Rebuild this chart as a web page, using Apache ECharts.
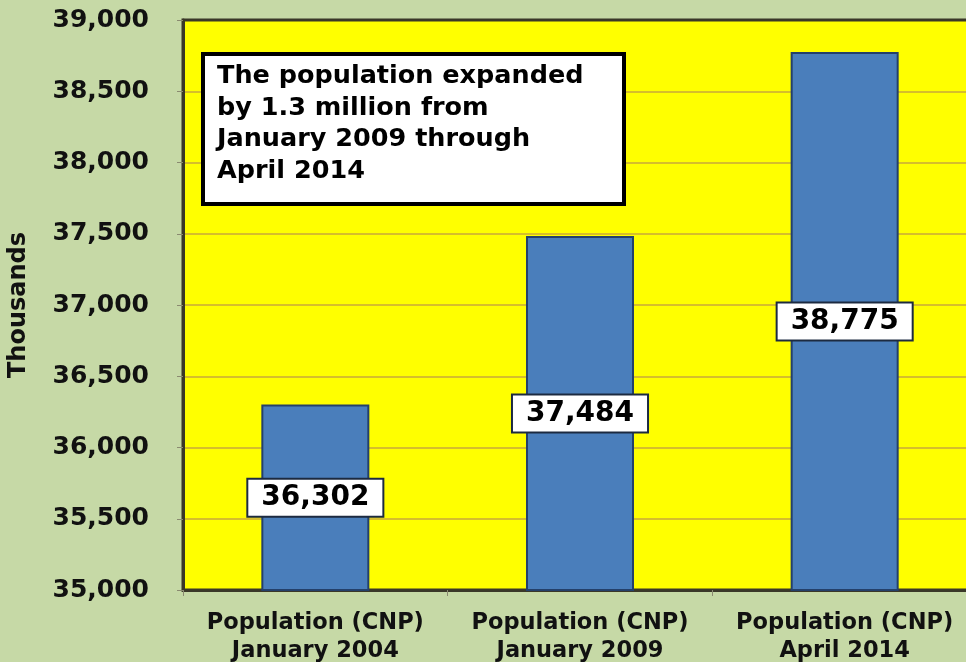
<!DOCTYPE html>
<html>
<head>
<meta charset="utf-8">
<script src="https://cdn.jsdelivr.net/npm/echarts@6/dist/echarts.min.js"></script>
<style>
  html, body { margin: 0; padding: 0; background: #c6d9a6; }
  #chart { width: 966px; height: 662px; }
</style>
</head>
<body>
<div id="chart"></div>
<script>
// Civilian non-institutional population, thousands
const categories = [
  'Population (CNP)\nJanuary 2004',
  'Population (CNP)\nJanuary 2009',
  'Population (CNP)\nApril 2014'
];
const population = [36302, 37484, 38775];
const yTicks = { min: 35000, max: 39000, interval: 500 };
const noteLines = [
  'The population expanded',
  'by 1.3 million from',
  'January 2009 through',
  'April 2014'
];

const FONT = '"DejaVu Sans", Verdana, sans-serif';
const chart = echarts.init(document.getElementById('chart'), null, { renderer: 'canvas' });

chart.setOption({
  backgroundColor: '#c6d9a6',
  animation: false,
  grid: {
    left: 183, top: 20, width: 794, bottom: 72,
    outerBoundsMode: 'none',
    containLabel: false,
    show: true,
    backgroundColor: '#ffff00',
    borderColor: '#3a3828',
    borderWidth: 3
  },
  xAxis: {
    type: 'category',
    data: categories,
    axisLine: { show: true, lineStyle: { color: '#3a3828', width: 3 } },
    axisTick: { show: true, alignWithLabel: false, length: 6, lineStyle: { color: '#8a8a70', width: 1 } },
    axisLabel: {
      interval: 0,
      color: '#111',
      fontFamily: FONT,
      fontWeight: 'bold',
      fontSize: 22.5,
      lineHeight: 28,
      margin: 19
    }
  },
  yAxis: {
    type: 'value',
    min: yTicks.min,
    max: yTicks.max,
    interval: yTicks.interval,
    name: 'Thousands',
    nameLocation: 'middle',
    nameGap: 152,
    nameRotate: 90,
    nameTextStyle: { color: '#111', fontFamily: FONT, fontWeight: 'bold', fontSize: 24 },
    axisLine: { show: true, lineStyle: { color: '#3a3828', width: 3 } },
    axisTick: { show: true, length: 6, lineStyle: { color: '#8a8a70', width: 1 } },
    splitLine: {
      show: true,
      showMinLine: false,
      showMaxLine: false,
      lineStyle: { color: '#c8a83a', width: 1.5 }
    },
    axisLabel: {
      color: '#111',
      fontFamily: FONT,
      fontWeight: 'bold',
      fontSize: 25,
      margin: 34,
      formatter: v => v.toLocaleString('en-US')
    }
  },
  series: [{
    type: 'bar',
    data: population,
    barWidth: 108,
    itemStyle: { color: '#4a7ebb', borderColor: '#24406a', borderWidth: 2 },
    label: {
      show: true,
      position: 'inside',
      formatter: p => p.value.toLocaleString('en-US'),
      color: '#000',
      fontFamily: FONT,
      fontWeight: 'bold',
      fontSize: 28,
      backgroundColor: '#ffffff',
      borderColor: '#1c2a40',
      borderWidth: 2,
      padding: [5, 13, 3, 13]
    }
  }],
  graphic: [{
    type: 'group',
    left: 201,
    top: 52,
    z: 100,
    children: [
      {
        type: 'rect',
        z: 100,
        shape: { x: 0, y: 0, width: 421, height: 150 },
        style: { fill: '#ffffff', stroke: '#000000', lineWidth: 4 }
      },
      {
        type: 'text',
        z: 101,
        x: 14,
        y: 7,
        style: {
          text: noteLines.join('\n'),
          fill: '#000',
          font: 'bold 25.5px ' + FONT,
          lineHeight: 31.5
        }
      }
    ]
  }]
});
</script>
</body>
</html>
